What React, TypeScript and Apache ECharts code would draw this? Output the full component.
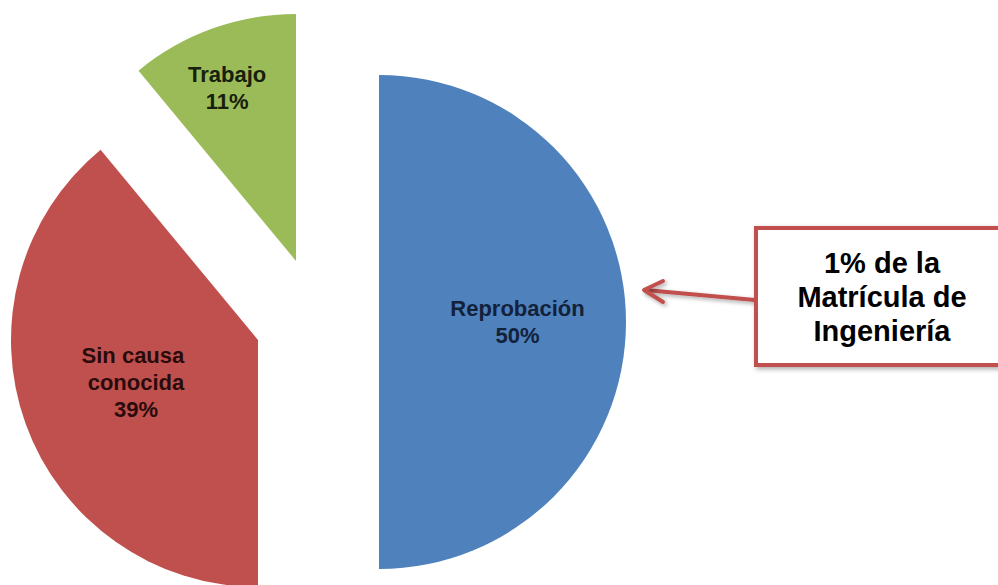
import React, { useEffect, useRef } from "react";
import * as echarts from "echarts";

const categories: string[] = ["Reprobación", "Sin causa conocida", "Trabajo"];
const values: number[] = [50, 39, 11];
const sliceColors: string[] = ["#4F81BD", "#C0504D", "#9BBB59"];
const labelColors: string[] = ["#14213a", "#2a0b0b", "#17200c"];
const calloutLines: string[] = ["1% de la", "Matrícula de", "Ingeniería"];

// per-slice exploded centres (pixels)
const centers: [number, number][] = [
  [379, 322],
  [258, 340],
  [296, 261],
];
const labelPaddings: number[][] = [
  [0, 0, 0, 24],
  [0, 6, 0, 0],
  [0, 52, 0, 0],
];
// empty trailing lines used to lift a label above its default spot
const labelLift: number[] = [0, 0, 4];

export default function App() {
  const ref = useRef<HTMLDivElement>(null);
  useEffect(() => {
    if (!ref.current) return;
    const chart = echarts.init(ref.current, null, { renderer: "svg" });
    const font = "'Liberation Sans', Arial, sans-serif";
    const series = categories.map((_, si) => ({
      type: "pie",
      center: centers[si],
      radius: 247,
      startAngle: 90,
      clockwise: true,
      silent: true,
      emphasis: { disabled: true },
      labelLine: { show: false },
      data: categories.map((name, i) => ({
        name,
        value: values[i],
        itemStyle: {
          color: sliceColors[i],
          opacity: i === si ? 1 : 0,
          borderWidth: 0,
        },
        label: {
          show: i === si,
          position: "inside",
          formatter: (p: any) =>
            `${p.name}\n${p.value}%` + "\n ".repeat(labelLift[i]),
          color: labelColors[i],
          fontFamily: font,
          fontWeight: "bold",
          fontSize: 22,
          lineHeight: 27,
          width: i === 1 ? 116 : undefined,
          overflow: i === 1 ? "break" : undefined,
          align: "center",
          padding: labelPaddings[i],
        },
      })),
    }));

    chart.setOption({
      animation: false,
      backgroundColor: "#ffffff",
      series,
      graphic: [
        {
          type: "line",
          shape: { x1: 755, y1: 300, x2: 645, y2: 290 },
          style: {
            stroke: "#C0504D",
            lineWidth: 4,
            shadowBlur: 4,
            shadowColor: "rgba(0,0,0,0.35)",
            shadowOffsetX: 2,
            shadowOffsetY: 2,
          },
        },
        {
          type: "polyline",
          shape: { points: [[663, 281], [644, 290], [663, 302]] },
          style: {
            stroke: "#C0504D",
            lineWidth: 4,
            fill: null,
            lineCap: "round",
            lineJoin: "round",
            shadowBlur: 4,
            shadowColor: "rgba(0,0,0,0.35)",
            shadowOffsetX: 2,
            shadowOffsetY: 2,
          },
        },
        {
          type: "rect",
          shape: { x: 756, y: 228, width: 260, height: 137 },
          style: {
            fill: "#ffffff",
            stroke: "#C0504D",
            lineWidth: 4,
            shadowBlur: 5,
            shadowColor: "rgba(0,0,0,0.35)",
            shadowOffsetX: 2,
            shadowOffsetY: 2,
          },
        },
        {
          type: "text",
          x: 882,
          y: 297,
          style: {
            text: calloutLines.join("\n"),
            fill: "#000000",
            font: `bold 29px ${font}`,
            lineHeight: 34,
            textAlign: "center",
            textVerticalAlign: "middle",
          },
        },
      ],
    });
    return () => chart.dispose();
  }, []);
  return (
    <div
      ref={ref}
      style={{ position: "fixed", left: 0, top: 0, width: 998, height: 585 }}
    />
  );
}
